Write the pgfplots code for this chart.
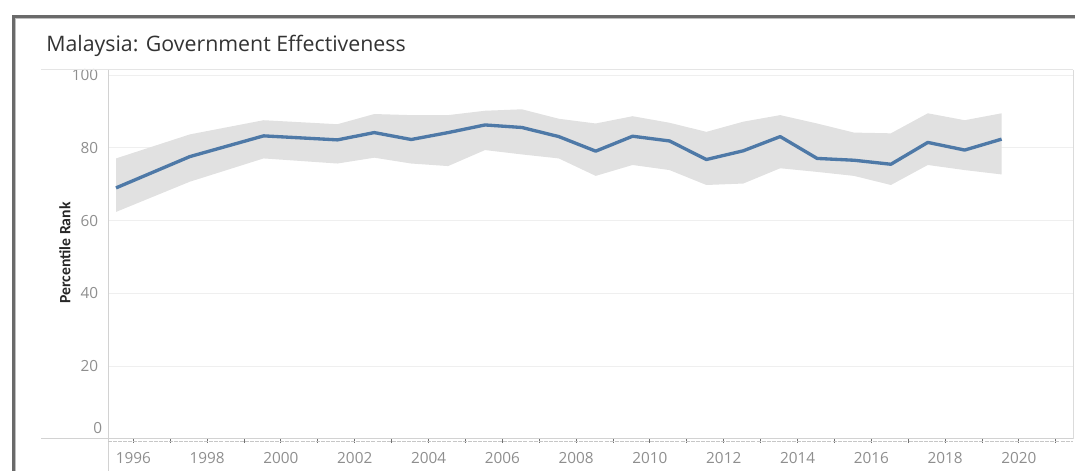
\documentclass[border=0pt]{standalone}
\usepackage{fontspec}
\setmainfont{Open Sans}
\newfontfamily\labelfont{Carlito}
\usepackage{pgfplots}
\pgfplotsset{compat=1.18}
\usepackage{pgfplotstable}
\usepgfplotslibrary{fillbetween}
\definecolor{lineblue}{HTML}{4E79A7}
\definecolor{bandc}{HTML}{E1E1E1}
\definecolor{gridc}{HTML}{EFEFEF}
\definecolor{tickc}{HTML}{8E8E8E}
\definecolor{tickmark}{HTML}{707070}
\definecolor{framec}{HTML}{6A6A6A}
\definecolor{axisc}{HTML}{D2D2D2}
\definecolor{titlec}{HTML}{333333}

\pgfplotstableread{
year value lower upper
1996 69.0 62.4 77.1
1998 77.6 70.7 83.7
2000 83.3 77.1 87.6
2002 82.2 75.7 86.5
2003 84.2 77.3 89.3
2004 82.3 75.7 89.0
2005 84.2 75.0 89.0
2006 86.3 79.4 90.2
2007 85.6 78.2 90.6
2008 83.1 77.1 88.0
2009 79.1 72.3 86.7
2010 83.2 75.3 88.7
2011 81.9 73.9 86.9
2012 76.8 69.8 84.4
2013 79.2 70.2 87.2
2014 83.1 74.4 89.0
2015 77.1 73.4 86.7
2016 76.6 72.3 84.2
2017 75.5 69.8 84.0
2018 81.5 75.3 89.5
2019 79.4 73.9 87.6
2020 82.4 72.7 89.5
}\datatable

% pixel -> pt helper (1px = 0.75pt, y measured from top of 471px image)
\newcommand{\PXY}[2]{({(#1)*0.75pt},{(471-(#2))*0.75pt})}

\begin{document}
\begin{tikzpicture}

\begin{axis}[
  at={(81pt,24pt)}, anchor=south west,
  scale only axis, width=723.75pt, height=276.75pt,
  xmin=1995.783, xmax=2021.935, ymin=0, ymax=101.4,
  axis line style={draw=none},
  xtick pos=bottom, ytick pos=left,
  ytick={20,40,60,80,100},
  extra y ticks={0},
  extra y tick style={grid=none, major tick length=0pt, yticklabel style={yshift=8.25pt}},
  ymajorgrids, grid style={draw=gridc, line width=0.75pt},
  major y tick style={draw=none},
  xtick={1996.47,1998.47,2000.47,2002.47,2004.47,2006.47,2008.47,2010.47,2012.47,2014.47,2016.47,2018.47,2020.47},
  xticklabels={1996,1998,2000,2002,2004,2006,2008,2010,2012,2014,2016,2018,2020},
  minor xtick={1997.47,1999.47,2001.47,2003.47,2005.47,2007.47,2009.47,2011.47,2013.47,2015.47,2017.47,2019.47,2021.47},
  tick align=outside, major tick length=3pt, minor tick length=3pt,
  major x tick style={draw=tickmark, line width=0.75pt},
  minor x tick style={draw=tickmark, line width=0.75pt},
  ticklabel style={font=\fontsize{11.5}{13}\selectfont, text=tickc},
  yticklabel style={xshift=-0.8pt},
  xticklabel style={yshift=-3.5pt},
  /pgf/number format/assume math mode=true,
]
\addplot[name path=up, draw=none] table[x=year,y=upper]{\datatable};
\addplot[name path=lo, draw=none] table[x=year,y=lower]{\datatable};
\addplot[fill=bandc, draw=none] fill between[of=up and lo];
\addplot[lineblue, line width=2.5pt, line join=round] table[x=year,y=value]{\datatable};
\end{axis}

% plot-area frame lines
\draw[draw=black!10, line width=0.75pt] \PXY{41}{70} -- \PXY{1073}{70};
\draw[draw=black!14, line width=0.75pt] \PXY{1073}{70} -- \PXY{1073}{439};
\draw[draw=axisc, line width=0.75pt] \PXY{108}{70} -- \PXY{108}{471};
\draw[draw=axisc, line width=0.75pt] \PXY{41}{439} -- \PXY{1073}{439};
\draw[draw=black!22, line width=0.6pt, dash pattern=on 3pt off 0.8pt] \PXY{108}{441.5} -- \PXY{1073}{441.5};

% outer window frame
\draw[draw=framec, line width=1.6pt] \PXY{13.5}{471} -- \PXY{13.5}{16.5} -- \PXY{1075}{16.5};
\draw[draw=black!25, line width=0.6pt] \PXY{15.6}{471} -- \PXY{15.6}{18.6} -- \PXY{1075}{18.6};

% title
\node[anchor=base west, inner sep=0pt, text=titlec, font=\fontsize{16}{19}\selectfont]
  at \PXY{46}{51.6} {Malaysia: Government Effectiveness};

% y label
\node[rotate=90, inner sep=0pt, text=black!85, font=\labelfont\bfseries\fontsize{11.8}{14}\selectfont]
  at \PXY{65}{253} {Percentile Rank};

\pgfresetboundingbox
\path[use as bounding box] (0,0) rectangle (806.25pt,353.25pt);
\end{tikzpicture}
\end{document}
